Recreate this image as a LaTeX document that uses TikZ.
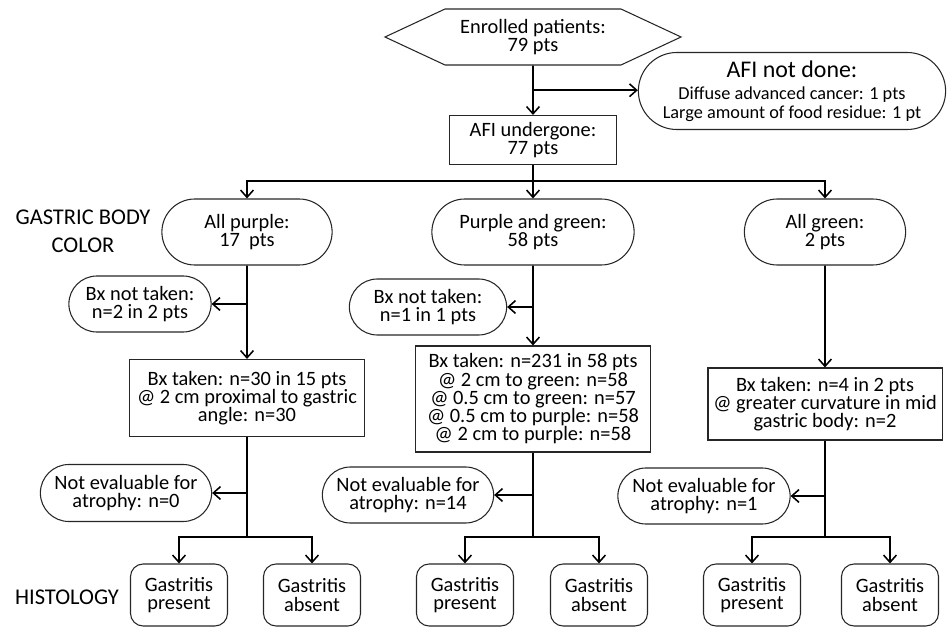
\documentclass[tikz,border=0pt]{standalone}
\usepackage{fontspec}
\setmainfont{Carlito}
\usepackage{tikz}
\usetikzlibrary{
    positioning,
    arrows.meta,
    calc,
    shapes.misc,
    shapes.symbols
}
\tikzset{
    % common box look
    box/.style={
        draw=black!85,
        line width=0.75pt,
        align=center,
        inner sep=1pt,
        font=\fontsize{14.5}{13}\selectfont
    },
    % start node (hexagon)
    hexa/.style={
        box,
        signal,
        signal to=east and west,
        signal pointer angle=50,
        minimum width=7.4cm,
        minimum height=1.4cm
    },
    % rounded ends
    pill/.style={box, rounded rectangle},
    % plain rectangle
    plain/.style={box, rectangle},
    % histology result
    result/.style={
        box,
        rectangle,
        rounded corners=9pt,
        minimum width=2.425cm,
        minimum height=1.55cm
    },
    % row labels on the left
    rowlabel/.style={align=center, font=\fontsize{16}{20}\selectfont},
    % connectors
    link/.style={line width=1.1pt},
    arrow/.style={
        link,
        -{Straight Barb[length=1.8mm, width=3.2mm]}
    }
}

\begin{document}
\begin{tikzpicture}[x=0.025cm, y=-0.025cm]
    \useasboundingbox (0,0) rectangle (950,630);

    % [1] enrolled / AFI
    \node[hexa] (n1) at (533,37) {Enrolled patients:\\79 pts};
    \node[plain, minimum width=4.175cm, minimum height=1.225cm] (n2) at (533,140) {AFI undergone:\\77 pts};
    \node[pill, minimum width=7.75cm, minimum height=1.925cm, font=\fontsize{13}{13}\selectfont] (n3) at (792,91) {
        {\fontsize{17}{17}\selectfont AFI not done:}\\[3pt]
        Diffuse advanced cancer: 1 pts\\
        Large amount of food residue: 1 pt
    };

    % branching points
    \coordinate (b1) at ($(n1.south)!0.5!(n2.north)$);
    \coordinate (b0) at (533,181);

    % [2] gastric body color
    \node[rowlabel] (lbl1) at (83,231) {GASTRIC BODY\\COLOR};
    \node[pill, minimum width=4.325cm, minimum height=1.65cm] (ap) at (247,232) {All purple:\\17~~pts};
    \node[pill, minimum width=5.125cm, minimum height=1.65cm] (pg) at (533,232) {Purple and green:\\58 pts};
    \node[pill, minimum width=4.1cm, minimum height=1.65cm] (ag) at (825,232) {All green:\\2 pts};

    % [3] biopsy not taken
    \node[pill, minimum width=3.625cm, minimum height=1.4cm] (bx1) at (140,304) {Bx not taken:\\n=2 in 2 pts};
    \node[pill, minimum width=4cm, minimum height=1.4cm] (bx2) at (428,307) {Bx not taken:\\n=1 in 1 pts};

    % [4] biopsy taken
    \node[plain, minimum width=5.85cm, minimum height=1.925cm] (bt1) at (247,398) {
        Bx taken: n=30 in 15 pts\\
        @ 2 cm proximal to gastric\\
        angle: n=30
    };
    \node[plain, minimum width=5.85cm, minimum height=2.65cm] (bt2) at (533,399) {
        Bx taken: n=231 in 58 pts\\
        @ 2 cm to green: n=58\\
        @ 0.5 cm to green: n=57\\
        @ 0.5 cm to purple: n=58\\
        @ 2 cm to purple: n=58
    };
    \node[plain, minimum width=5.85cm, minimum height=1.8cm] (bt3) at (825,404) {
        Bx taken: n=4 in 2 pts\\
        @ greater curvature in mid\\
        gastric body: n=2
    };

    % [5] not evaluable
    \node[pill, minimum width=4.35cm, minimum height=1.425cm] (ne1) at (126,493) {Not evaluable for\\atrophy: n=0};
    \node[pill, minimum width=4.35cm, minimum height=1.4cm] (ne2) at (408,495) {Not evaluable for\\atrophy: n=14};
    \node[pill, minimum width=4.375cm, minimum height=1.4cm] (ne3) at (704,496) {Not evaluable for\\atrophy: n=1};

    % junctions above histology
    \coordinate (j1) at (247,537);
    \coordinate (j2) at (533,537);
    \coordinate (j3) at (825,537);

    % [6] histology
    \node[rowlabel] (lbl2) at (67,597) {HISTOLOGY};
    \node[result] (gp1) at (179,595) {Gastritis\\present};
    \node[result] (ga1) at (312,595) {Gastritis\\absent};
    \node[result] (gp2) at (465,595) {Gastritis\\present};
    \node[result] (ga2) at (599,595) {Gastritis\\absent};
    \node[result] (gp3) at (752,595) {Gastritis\\present};
    \node[result] (ga3) at (890,595) {Gastritis\\absent};

    % connectors: top
    \draw[arrow] (n1) -- (n2);
    \draw[arrow] (b1) -- (b1 -| n3.west);
    \draw[link] (n2) -- (b0);
    \draw[arrow] (b0) -| (ap);
    \draw[arrow] (b0) -- (pg);
    \draw[arrow] (b0) -| (ag);

    % connectors: all purple
    \draw[arrow] (ap) -- (bt1);
    \draw[arrow] (ap.south |- bx1) -- (bx1);
    \draw[link] (bt1) -- (j1);
    \draw[arrow] (j1 |- ne1) -- (ne1);
    \draw[arrow] (j1) -| (gp1);
    \draw[arrow] (j1) -| (ga1);

    % connectors: purple and green
    \draw[arrow] (pg) -- (bt2);
    \draw[arrow] (pg.south |- bx2) -- (bx2);
    \draw[link] (bt2) -- (j2);
    \draw[arrow] (j2 |- ne2) -- (ne2);
    \draw[arrow] (j2) -| (gp2);
    \draw[arrow] (j2) -| (ga2);

    % connectors: all green
    \draw[arrow] (ag) -- (bt3);
    \draw[link] (bt3) -- (j3);
    \draw[arrow] (j3 |- ne3) -- (ne3);
    \draw[arrow] (j3) -| (gp3);
    \draw[arrow] (j3) -| (ga3);

\end{tikzpicture}
\end{document}
